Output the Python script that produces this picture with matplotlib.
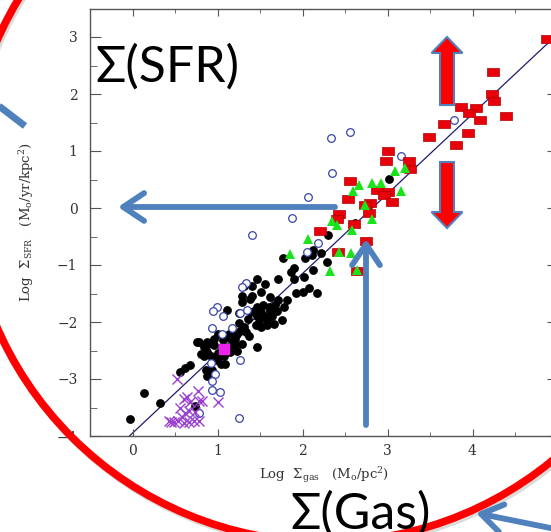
import numpy as np
import matplotlib.pyplot as plt
from matplotlib.patches import Ellipse, FancyArrow
from matplotlib.ticker import MultipleLocator
from matplotlib.path import Path

plt.rcParams['font.family'] = 'DejaVu Serif'
plt.rcParams['mathtext.fontset'] = 'dejavuserif'

# (log gas, log sfr)
spirals = [(-0.03, -3.71), (0.13, -3.24), (0.32, -3.42), (0.74, -3.48), (0.56, -2.88), (0.62, -2.80),
           (0.68, -2.76), (0.76, -2.35), (0.80, -2.57), (0.86, -2.50), (0.89, -2.38), (0.92, -2.59),
           (1.00, -2.62), (1.04, -2.73), (1.09, -2.73), (0.86, -2.84), (0.94, -2.84), (0.88, -2.94),
           (0.78, -2.35), (0.88, -2.35), (0.84, -2.44), (0.96, -2.41), (0.96, -2.29), (1.00, -2.21),
           (1.13, -2.21), (1.06, -2.32), (1.11, -2.27), (1.17, -2.32), (1.21, -2.41), (1.29, -2.38),
           (1.23, -2.50), (1.15, -2.53), (1.00, -2.55), (0.88, -2.53), (0.84, -2.59), (1.19, -2.38),
           (1.47, -2.43), (1.23, -2.21), (1.33, -2.18), (1.37, -2.25), (1.27, -2.15), (1.31, -2.09),
           (1.25, -2.02), (1.49, -2.00), (1.51, -2.09), (1.58, -2.06), (1.58, -1.97), (1.76, -1.96),
           (1.47, -1.90), (1.55, -1.89), (1.64, -1.89), (1.70, -1.80), (1.25, -1.85), (1.11, -1.79),
           (1.39, -1.83), (1.51, -1.83), (1.43, -1.80), (1.47, -1.74), (1.60, -1.74), (1.68, -1.71),
           (1.78, -1.74), (2.17, -1.49), (2.00, -1.48), (1.92, -1.49), (1.82, -1.62), (1.71, -1.62),
           (1.62, -1.56), (1.29, -1.65), (1.38, -1.59), (1.29, -1.54), (1.41, -1.54), (1.51, -1.48),
           (1.31, -1.37), (1.41, -1.37), (2.02, -1.21), (1.90, -1.24), (1.71, -1.25), (1.56, -1.33),
           (1.47, -1.25), (2.12, -1.08), (1.90, -1.06), (2.29, -0.95), (1.77, -0.88), (2.03, -0.88),
           (2.11, -0.83), (2.22, -0.79), (2.12, -0.73), (2.30, -0.48), (2.62, -0.27), (3.02, 0.51),
           (1.53, -1.70), (1.45, -2.05), (1.36, -1.95), (1.62, -1.80), (1.67, -2.03), (1.20, -2.30),
           (1.12, -2.45), (1.05, -2.48), (0.98, -2.66), (1.08, -2.60), (1.86, -1.12), (2.08, -1.40)]

open_circles = [(2.33, 1.23), (2.56, 1.34), (2.35, 0.62), (3.16, 0.91), (2.07, 0.20), (1.88, -0.17),
                (3.78, 1.55), (1.41, -0.48), (2.18, -0.62), (2.05, -0.77), (1.33, -1.31), (1.29, -1.38),
                (0.99, -1.73), (0.95, -1.80), (1.07, -1.89), (1.27, -1.85), (1.35, -1.79), (0.93, -2.11),
                (1.17, -2.10), (1.05, -2.21), (1.27, -2.67), (0.92, -2.72), (0.97, -2.92), (0.93, -3.04),
                (0.93, -3.19), (1.03, -3.22), (0.78, -3.60), (1.25, -3.68)]

starbursts = [(4.88, 2.97), (4.24, 2.39), (4.23, 2.00), (4.25, 1.87), (4.39, 1.62), (3.86, 1.78),
              (4.04, 1.76), (3.96, 1.66), (4.09, 1.54), (3.66, 1.48), (3.95, 1.31), (3.49, 1.24),
              (3.80, 1.10), (3.25, 0.82), (3.27, 0.68), (3.01, 1.00), (2.98, 0.83), (2.56, 0.48),
              (2.88, 0.32), (3.00, 0.28), (2.96, 0.22), (3.05, 0.11), (2.53, 0.15), (2.79, 0.08),
              (2.73, 0.06), (2.43, -0.10), (2.41, -0.19), (2.78, -0.09), (2.60, -0.28), (2.21, -0.41),
              (2.75, -0.58), (2.42, -0.78), (2.64, -1.10)]

triangles = [(3.21, 0.70), (3.09, 0.65), (2.66, 0.41), (2.82, 0.44), (2.92, 0.44), (2.59, 0.29),
             (3.16, 0.29), (2.74, 0.05), (2.35, -0.22), (2.41, -0.29), (2.06, -0.54), (2.82, -0.19),
             (2.58, -0.39), (1.85, -0.80), (2.43, -0.77), (2.57, -0.79), (2.32, -1.10), (2.64, -1.09)]

crosses = [(0.52, -3.00), (0.77, -3.21), (0.60, -3.35), (0.64, -3.32), (0.68, -3.41), (0.78, -3.39),
           (0.82, -3.38), (1.00, -3.41), (0.56, -3.50), (0.66, -3.56), (0.62, -3.60), (0.74, -3.58),
           (0.58, -3.66), (0.43, -3.73), (0.49, -3.76), (0.54, -3.73), (0.60, -3.78), (0.66, -3.76),
           (0.72, -3.74), (0.78, -3.73), (0.45, -3.76)]

milky_way = [(1.08, -2.47)]

fit_slope = 1.4
fit_icpt = -3.95

fig = plt.figure(figsize=(5.51, 5.32), dpi=100)
ax = fig.add_axes([90 / 551, 1 - 436 / 532, 467.5 / 551, 427.5 / 532])

rect = Path([(-1, -0.62), (1, -0.62), (1, 0.62), (-1, 0.62), (-1, -0.62)])

def xy(pts):
    a = np.array(pts)
    return a[:, 0], a[:, 1]

fx = np.array([-0.04, 5.0])
ax.plot(fx, fit_slope * fx + fit_icpt, color='#1c1c70', lw=0.9, zorder=1)

x, y = xy(spirals)
ax.plot(x, y, 'o', color='black', ms=5.3, zorder=2)
x, y = xy(open_circles)
ax.plot(x, y, 'o', mfc='white', mec='#3845a8', mew=0.9, ms=5.5, zorder=3)
x, y = xy(crosses)
ax.plot(x, y, 'x', color='#9b3fcf', ms=7.5, mew=1.0, zorder=3)
x, y = xy(starbursts)
ax.plot(x, y, ls='none', marker=rect, mfc='#e8000b', mec='#b00000', mew=0.5, ms=9, zorder=4)
x, y = xy(triangles)
ax.plot(x, y, '^', color='#1be31b', ms=7.5, mew=0, zorder=5)
x, y = xy(milky_way)
ax.plot(x, y, 's', color='#ee22ee', ms=7, zorder=6)

ax.set_xlim(-0.5, 5.0)
ax.set_ylim(-4, 3.5)
ax.xaxis.set_major_locator(MultipleLocator(1))
ax.xaxis.set_minor_locator(MultipleLocator(0.5))
ax.yaxis.set_major_locator(MultipleLocator(1))
ax.yaxis.set_minor_locator(MultipleLocator(0.5))
ax.tick_params(which='both', direction='in', top=True, right=True, colors='#555555',
               labelcolor='#333333', labelsize=10)
ax.tick_params(axis='x', which='major', length=5, pad=6)
ax.tick_params(axis='x', which='minor', length=3)
ax.tick_params(axis='y', which='major', length=8, pad=9)
ax.tick_params(axis='y', which='minor', length=5)
for s in ax.spines.values():
    s.set_color('#555555')
    s.set_linewidth(1.0)

ax.set_xlabel(r'Log  $\Sigma_{\rm gas}$   (M$_{\rm o}$/pc$^2$)', fontsize=9.5, color='#333333')
ax.set_ylabel(r'Log  $\Sigma_{\rm SFR}$   (M$_{\rm o}$/yr/kpc$^2$)', fontsize=9.5, color='#333333')
ax.xaxis.set_label_coords(0.5, -0.068)
ax.yaxis.set_label_coords(-0.115, 0.5)

# overlay in pixel coordinates for the slide annotations
ov = fig.add_axes([0, 0, 1, 1], zorder=5)
ov.set_xlim(0, 551)
ov.set_ylim(532, 0)
ov.axis('off')
ov.patch.set_alpha(0)

ov.add_patch(Ellipse((327, 187), 716, 716, fill=False, ec='#999999', lw=5, alpha=0.35))
ov.add_patch(Ellipse((325, 184), 716, 716, fill=False, ec='#ff0000', lw=5.5))

blue = '#4f81bd'
for tip, tail in [((118, 207), (335, 207)), ((366, 239), (366, 425)), ((476, 513), (590, 536))]:
    ov.annotate('', xy=tip, xytext=tail,
                arrowprops=dict(arrowstyle='->,head_length=0.75,head_width=0.5', lw=4.2,
                                color=blue, mutation_scale=20, shrinkA=0, shrinkB=0))
ov.plot([-5, 25], [103, 126], color=blue, lw=5, solid_capstyle='butt')

ov.add_patch(FancyArrow(447, 105, 0, -68, width=14, head_width=31, head_length=16,
                        length_includes_head=True, fc='#ff0000', ec=blue, lw=1.5))
ov.add_patch(FancyArrow(447, 162, 0, 66, width=14, head_width=31, head_length=16,
                        length_includes_head=True, fc='#ff0000', ec=blue, lw=1.5))

big = ['Lato', 'Open Sans', 'DejaVu Sans']
ov.text(95, 82, 'Σ(SFR)', fontsize=36, family=big, color='black', va='baseline', ha='left')
ov.text(290, 529, 'Σ(Gas)', fontsize=36, family=big, color='black', va='baseline', ha='left')

fig.savefig('out.png', dpi=100)
